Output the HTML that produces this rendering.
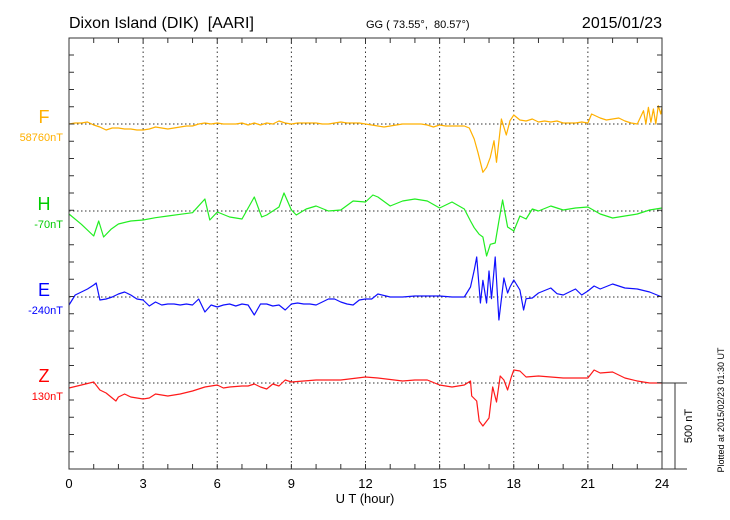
<!DOCTYPE html>
<html><head><meta charset="utf-8"><style>
html,body{margin:0;padding:0;background:#fff;}
svg{display:block;font-family:"Liberation Sans",sans-serif;}
text{white-space:pre;}
</style></head><body>
<svg id="chart" width="730" height="520" viewBox="0 0 730 520">
<text x="69" y="28" font-size="16">Dixon Island (DIK)  [AARI]</text>
<text x="366" y="28" font-size="11">GG ( 73.55°,  80.57°)</text>
<text x="662" y="28" font-size="16" text-anchor="end">2015/01/23</text>
<text x="365" y="503" font-size="13" text-anchor="middle">U T (hour)</text>
<text transform="translate(724,410) rotate(-90)" font-size="9" text-anchor="middle">Plotted at 2015/02/23 01:30 UT</text>
<text transform="translate(692,426) rotate(-90)" font-size="11" text-anchor="middle">500 nT</text>
<g id="grid"></g><g id="series"></g><g id="axes"></g><g id="labels"></g>
</svg>
<script>
const xTickLabels = ["0","3","6","9","12","15","18","21","24"];
const fT = [0,0.25,0.5,0.75,1,1.25,1.5,1.75,2,2.25,2.5,2.75,3,3.25,3.5,3.75,4,4.25,4.5,4.75,5,5.25,5.5,5.75,6,6.25,6.5,6.75,7,7.25,7.5,7.75,8,8.25,8.5,8.75,9,9.25,9.5,9.75,10,10.25,10.5,10.75,11,11.25,11.5,11.75,12,12.25,12.5,12.75,13,13.25,13.5,13.75,14,14.25,14.5,14.75,15,15.25,15.5,15.75,16,16.2,16.4,16.55,16.75,16.9,17.05,17.2,17.3,17.5,17.7,17.85,18,18.25,18.5,18.75,19,19.25,19.5,19.75,20,20.25,20.5,20.75,21,21.15,21.5,21.75,22,22.25,22.5,22.75,23,23.25,23.35,23.45,23.55,23.65,23.75,23.85,23.95,24];
const fV = [0,6,6,12,-6,-18,-36,-24,-24,-30,-30,-36,-36,-30,-18,-24,-30,-24,-18,-12,-12,0,6,0,6,0,0,0,6,-6,6,-6,6,0,18,6,0,6,6,6,6,0,0,6,12,6,6,6,0,-6,-12,-18,-12,-6,0,0,0,0,-6,-18,-6,-12,-12,-12,-12,-24,-90,-170,-290,-260,-200,-100,-230,30,-66,20,54,24,18,30,12,18,12,18,6,6,6,12,6,60,36,24,30,36,18,6,0,80,0,100,10,90,0,110,60,100];
const hT = [0,0.5,1,1.2,1.4,1.7,2,2.5,3,3.5,4,4.5,5,5.5,5.7,6,6.5,7,7.5,7.8,8,8.5,8.7,9,9.2,9.6,10,10.5,11,11.5,12,12.3,12.5,13,13.5,14,14.5,15,15.5,16,16.25,16.4,16.5,16.6,16.75,16.9,17.05,17.25,17.4,17.55,17.75,18,18.25,18.5,18.75,19,19.5,20,20.5,21,21.5,22,22.5,23,23.5,24];
const hV = [-18,-80,-150,-60,-156,-110,-78,-60,-54,-40,-30,-20,-10,72,-54,-6,-36,-48,84,-36,-24,24,108,6,-24,12,30,0,6,60,54,96,84,30,60,72,60,18,54,12,-60,-100,-120,-140,-156,-270,-200,-192,-60,66,-96,-120,-30,-48,12,0,30,6,18,24,-18,-42,-30,-18,6,18];
const eT = [0,0.25,0.5,0.75,1,1.1,1.25,1.5,1.75,2,2.25,2.5,2.75,3,3.25,3.5,3.75,4,4.25,4.5,4.75,5,5.25,5.5,5.75,6,6.25,6.5,6.75,7,7.25,7.5,7.75,8,8.25,8.5,8.75,9,9.25,9.5,9.75,10,10.25,10.5,10.75,11,11.25,11.5,11.75,12,12.25,12.5,13,13.5,14,14.5,15,15.5,16,16.25,16.4,16.5,16.65,16.75,16.9,17,17.1,17.25,17.4,17.6,17.75,17.85,18,18.25,18.4,18.5,18.75,19,19.5,19.75,20,20.25,20.5,20.75,21,21.25,21.5,22,22.5,23,23.5,24];
const eV = [-48,12,30,48,72,84,-18,-12,0,18,30,12,-12,-18,-54,-30,-48,-42,-42,-48,-42,-48,-12,-90,-48,-60,-48,-42,-54,-42,-48,-108,-42,-42,-54,-48,-78,-42,-36,-42,-42,-48,-30,-12,-12,-30,-42,-48,-18,-12,-12,18,0,0,6,6,6,0,0,60,160,240,-36,100,-36,156,-10,240,-138,114,24,60,102,42,-78,-10,-6,24,54,20,12,30,48,12,36,66,48,78,54,48,30,0];
const zT = [0,0.5,1,1.25,1.5,1.75,1.9,2,2.25,2.5,3,3.25,3.5,3.75,4,4.5,5,5.5,6,6.25,6.5,7,7.25,7.5,7.75,8,8.25,8.5,8.75,9,9.5,10,11,12,12.5,13.5,14,14.5,15,15.5,16,16.25,16.3,16.5,16.6,16.75,17,17.15,17.3,17.45,17.6,17.75,17.9,18,18.25,18.5,19,19.5,20,20.5,21,21.25,21.5,22,22.5,23,23.5,24];
const zV = [-30,-12,6,-42,-60,-90,-108,-84,-66,-84,-96,-90,-66,-72,-78,-66,-48,-24,-12,-30,-24,-18,-18,-6,-24,-36,-6,-18,18,6,12,18,18,36,30,12,18,18,-12,-24,-12,12,-78,-108,-228,-258,-210,-24,-114,42,18,-42,36,78,72,36,42,36,30,30,30,78,60,66,30,12,0,0];

const NS = "http://www.w3.org/2000/svg";
const X0 = 69, X1 = 662, Y0 = 38, Y1 = 469;
const pxPerNT = 1/6;
const baselines = [124, 211, 297, 383];
function xScale(h){ return X0 + h * (X1 - X0) / 24; }
function yScale(v, base){ return base - v * pxPerNT; }
function mk(tag, attrs, parent){ const e=document.createElementNS(NS,tag); for(const k in attrs) e.setAttribute(k,attrs[k]); parent.appendChild(e); return e; }
const grid=document.getElementById('grid'), axes=document.getElementById('axes'), ser=document.getElementById('series'), lab=document.getElementById('labels');

for(let h=3; h<24; h+=3){
  const l=mk('line',{x1:xScale(h),x2:xScale(h),y1:Y0,y2:Y1,stroke:'#333','stroke-width':1,'stroke-dasharray':'1.5,3'},grid);
  
  
}
baselines.forEach(b=>{
  const l=mk('line',{x1:X0,x2:X1,y1:b,y2:b,stroke:'#333','stroke-width':1,'stroke-dasharray':'1.5,2.5'},grid);
  
  
});

const seriesDefs=[[fT,fV,'#ffb000',0,'f-series-line'],[hT,hV,'#22ee22',1,'h-series-line'],[eT,eV,'#1010ff',2,'e-series-line'],[zT,zV,'#ff1a1a',3,'z-series-line']];
seriesDefs.forEach(d=>{
  const [ts,vs,c,i,name]=d;
  let p='';
  for(let k=0;k<ts.length;k++){ p+=(k?'L':'M')+xScale(ts[k]).toFixed(1)+','+yScale(vs[k],baselines[i]).toFixed(1); }
  const path=mk('path',{d:p,fill:'none',stroke:c,'stroke-width':1.2,'stroke-linejoin':'round'},ser);
  
  
});

const frame=mk('rect',{x:X0,y:Y0,width:X1-X0,height:Y1-Y0,fill:'none',stroke:'#333','stroke-width':1},axes);


for(let h=1; h<24; h++){
  const tk=mk('path',{d:`M${xScale(h)},${Y0}v5M${xScale(h)},${Y1}v-5`,stroke:'#333','stroke-width':1},axes);
  
  
}
for(let y=Y1-17.25; y>Y0+5; y-=17.25){
  const tk=mk('path',{d:`M${X0},${y}h5M${X1},${y}h-5`,stroke:'#333','stroke-width':1},axes);
  
  
}
const sb=mk('path',{d:`M${X1},383H687M675,383V${Y1}M${X1},${Y1}H687`,stroke:'#333','stroke-width':1,fill:'none'},axes);



xTickLabels.forEach((t,i)=>{
  const tx=mk('text',{x:xScale(i*3),y:488,'font-size':13,'text-anchor':'middle'},lab);
  tx.textContent=t;
  
  
});
const compNames=["F","H","E","Z"], compBase=["58760nT","-70nT","-240nT","130nT"], compColor=["#ffb000","#00cc00","#0000ff","#ff0000"];
compNames.forEach((n,i)=>{
  const a=mk('text',{x:44,y:baselines[i]-1,'font-size':18,'text-anchor':'middle',fill:compColor[i]},lab);
  a.textContent=n;
  
  
  const b=mk('text',{x:63,y:baselines[i]+17,'font-size':11,'text-anchor':'end',fill:compColor[i]},lab);
  b.textContent=compBase[i];
  
  
});
</script>
</body></html>
